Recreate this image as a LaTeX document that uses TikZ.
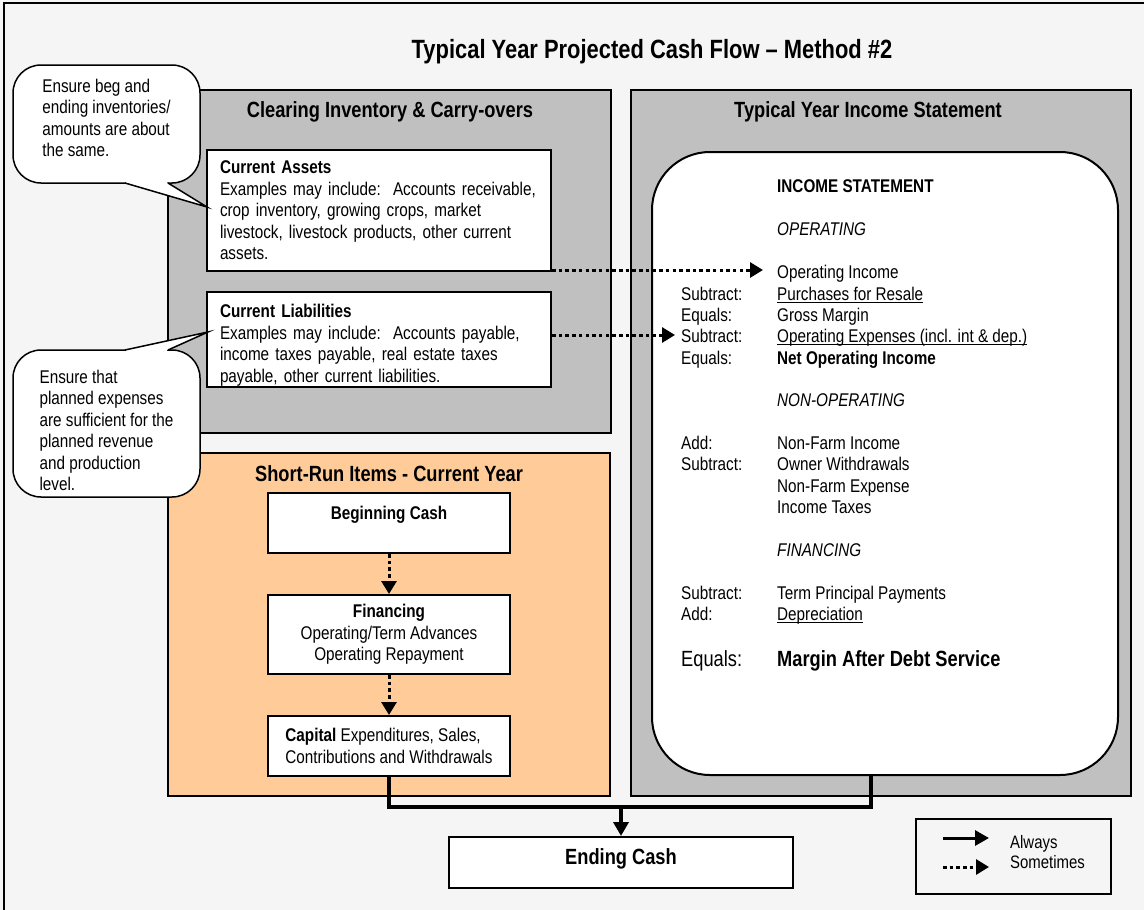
\documentclass[tikz,border=0pt]{standalone}
\usepackage{fontspec}
\setmainfont{Liberation Sans}[FakeStretch=0.83]
\usetikzlibrary{arrows.meta}
\definecolor{bg}{HTML}{F5F5F5}
\definecolor{panelgray}{HTML}{C0C0C0}
\definecolor{peach}{HTML}{FFCC99}
\newsavebox\ulbox
\newcommand\uln[1]{\sbox\ulbox{#1}\rlap{\rule[-3pt]{\wd\ulbox}{1.2pt}}\usebox\ulbox}
\newcommand\lift[2]{\raisebox{#1}[\height][\depth]{#2}}
\tikzset{
  body/.style={font=\fontsize{18.4}{21.5}\selectfont},
  head/.style={font=\bfseries\fontsize{22}{25}\selectfont, inner sep=0pt},
  panel/.style={draw, line width=2pt, fill=panelgray, inner sep=0pt},
  wbox/.style={draw, line width=2pt, fill=white, inner sep=0pt, body},
  callbox/.style={draw, line width=1.5pt, fill=white, rounded corners=28pt, inner sep=0pt, body},
  lab/.style={body, anchor=base west, inner sep=0pt},
  sometimes/.style={line width=3pt, dash pattern=on 3.5pt off 3.2pt, -{Triangle[length=13pt,width=15pt]}},
  always/.style={line width=3.5pt, -{Triangle[length=14pt,width=15pt]}},
}
\begin{document}
\begin{tikzpicture}[x=1pt,y=-1pt]
\useasboundingbox (0,0) rectangle (1144,910);
\clip (0,0) rectangle (1144,910);
\fill[bg] (0,0) rectangle (1144,910);
\draw[line width=2pt] (4,3) rectangle (1170,930);

\node[font=\bfseries\fontsize{26.4}{29}\selectfont, inner sep=0pt] (title) at (652,52) {Typical Year Projected Cash Flow – Method \#2};

% left gray panel
\node[panel, minimum width=443pt, minimum height=343pt] (ci) at (389.5,261.5) {};
\node[head] (cit) at (390,112) {Clearing Inventory \& Carry-overs};

% right gray panel
\node[panel, minimum width=500pt, minimum height=706pt] (ti) at (881,443) {};
\node[head] (tit) at (868,112) {Typical Year Income Statement};
\node[draw, fill=white, rounded corners=58pt, line width=2pt, minimum width=466pt, minimum height=623pt, inner sep=0pt] (is) at (885,463.5) {};

% current assets / liabilities
\node[wbox, align=left, text width=318pt, inner xsep=13pt, minimum height=121pt] (ca) at (379,210.5)
  {\textbf{Current Assets}\\\mbox{Examples may include:\ \ Accounts receivable,}\\crop inventory, growing crops, market\\livestock, livestock products, other current\\assets.};
\node[wbox, align=left, text width=318pt, inner xsep=13pt, minimum height=95pt] (cl) at (379,339.5)
  {\lift{-6pt}{\begin{tabular}{@{}l@{}}\textbf{Current Liabilities}\\Examples may include:\ \ Accounts payable,\\income taxes payable, real estate taxes\\payable, other current liabilities.\end{tabular}}};

% short-run panel
\node[draw, line width=2pt, fill=peach, minimum width=442pt, minimum height=343pt, inner sep=0pt] (sr) at (389,624.5) {};
\node[head] (srt) at (389,474) {Short-Run Items - Current Year};
\node[wbox, minimum width=242pt, minimum height=60pt] (bc) at (389,523) {\lift{8pt}{\textbf{Beginning Cash}}};
\node[wbox, align=center, minimum width=242pt, minimum height=79pt] (fin) at (389,634.5)
  {\textbf{Financing}\\Operating/Term Advances\\Operating Repayment};
\node[wbox, align=left, minimum width=242pt, minimum height=60pt] (cap) at (389,746)
  {\textbf{Capital} Expenditures, Sales,\\Contributions and Withdrawals};

% ending cash
\node[wbox, font=\bfseries\fontsize{22}{25}\selectfont, minimum width=344pt, minimum height=51pt] (ec) at (621,862.5) {\lift{4pt}{Ending Cash}};

% callouts
\node[callbox, minimum width=187pt, minimum height=118pt] (c1) at (106.5,124)
  {\lift{4pt}{\begin{tabular}{@{}l@{}}Ensure beg and\\ending inventories/\\amounts are about\\the same.\end{tabular}}};
\coordinate (c1tip) at (207,207);
\fill[white] (126,180.5) -- (126,183) -- (c1tip) -- (167,183) -- (167,180.5) -- cycle;
\draw[line width=1.5pt, line join=miter] (125,183) -- (c1tip) -- (168,183);

\node[callbox, minimum width=187pt, minimum height=147pt] (c2) at (106.5,423.5)
  {\lift{-9pt}{\begin{tabular}{@{}l@{}}Ensure that\\planned expenses\\are sufficient for the\\planned revenue\\and production\\level.\end{tabular}}};
\coordinate (c2tip) at (208,332);
\fill[white] (126,352.5) -- (126,350) -- (c2tip) -- (167,350) -- (167,352.5) -- cycle;
\draw[line width=1.5pt, line join=miter] (125,350) -- (c2tip) -- (168,350);

% income statement text
\node[lab, font=\bfseries\fontsize{18.4}{21.5}\selectfont] (ishead) at (777,192) {INCOME STATEMENT};
\node[lab, font=\itshape\fontsize{18.4}{21.5}\selectfont] (op) at (777,235) {OPERATING};
\node[lab] (v1) at (777,278) {Operating Income};
\node[lab] (l2) at (681,300) {Subtract:};
\node[lab] (v2) at (777,300) {\uln{Purchases for Resale}};
\node[lab] (l3) at (681,321) {Equals:};
\node[lab] (v3) at (777,321) {Gross Margin};
\node[lab] (l4) at (681,342) {Subtract:};
\node[lab] (v4) at (777,342) {\uln{Operating Expenses (incl. int \& dep.)}};
\node[lab] (l5) at (681,364) {Equals:};
\node[lab, font=\bfseries\fontsize{18.4}{21.5}\selectfont] (v5) at (777,364) {Net Operating Income};
\node[lab, font=\itshape\fontsize{18.4}{21.5}\selectfont] (nop) at (777,406) {NON-OPERATING};
\node[lab] (l6) at (681,449) {Add:};
\node[lab] (v6) at (777,449) {Non-Farm Income};
\node[lab] (l7) at (681,470) {Subtract:};
\node[lab] (v7) at (777,470) {Owner Withdrawals};
\node[lab] (v8) at (777,492) {Non-Farm Expense};
\node[lab] (v9) at (777,513) {Income Taxes};
\node[lab, font=\itshape\fontsize{18.4}{21.5}\selectfont] (finh) at (777,556) {FINANCING};
\node[lab] (l10) at (681,599) {Subtract:};
\node[lab] (v10) at (777,599) {Term Principal Payments};
\node[lab] (l11) at (681,620) {Add:};
\node[lab] (v11) at (777,620) {\uln{Depreciation}};
\node[lab, font=\fontsize{22}{25}\selectfont] (l12) at (681,666) {Equals:};
\node[lab, font=\bfseries\fontsize{22}{25}\selectfont] (v12) at (777,666) {Margin After Debt Service};

% dotted arrows into income statement
\coordinate (a1end) at (763,270);
\draw[sometimes] (ca.east |- a1end) -- (a1end);
\coordinate (a2end) at (675,335);
\draw[sometimes] (cl.east |- a2end) -- (a2end);

% short-run flow
\draw[sometimes] (bc.south) -- (fin.north);
\draw[sometimes] (fin.south) -- (cap.north);

% bottom connector
\coordinate (jl) at (389,807);
\coordinate (jr) at (871,807);
\coordinate (jm) at (621,807);
\draw[line width=3.5pt, line join=miter] (cap.south) -- (jl) -- (jr) -- (jr |- is.south);
\draw[always] (jm) -- (ec.north);

% legend
\node[draw, line width=2pt, minimum width=195pt, minimum height=75pt, inner sep=0pt] (lg) at (1013.5,856.5) {};
\coordinate (lg1s) at (943,838);
\coordinate (lg1e) at (989,838);
\coordinate (lg2s) at (943,867);
\coordinate (lg2e) at (989,867);
\draw[always, line width=3pt] (lg1s) -- (lg1e);
\draw[sometimes] (lg2s) -- (lg2e);
\node[anchor=base west, inner sep=0pt, font=\fontsize{18}{20}\selectfont] (lga) at (1010,848) {Always};
\node[anchor=base west, inner sep=0pt, font=\fontsize{18}{20}\selectfont] (lgs) at (1010,868) {Sometimes};
\end{tikzpicture}
\end{document}
